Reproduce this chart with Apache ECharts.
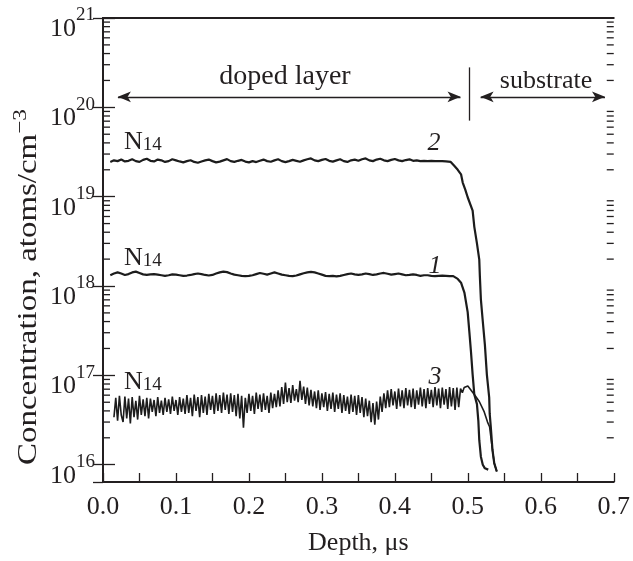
<!DOCTYPE html>
<html>
<head>
<meta charset="utf-8">
<script src="https://cdn.jsdelivr.net/npm/echarts@6.0.0/dist/echarts.min.js"></script>
<style>
html,body{margin:0;padding:0;background:#fff;}
#chart{width:633px;height:561px;}
</style>
</head>
<body>
<div id="chart"></div>
<script>
// ---------------- DATA ----------------
// depth sampling grid of the flat (doped-layer) part of curves 1 and 2, µm
const depthGrid = [
  0.010,0.015,0.020,0.025,0.030,0.035,0.040,0.045,0.050,0.055,
  0.060,0.065,0.070,0.075,0.080,0.085,0.090,0.095,0.100,0.105,
  0.110,0.115,0.120,0.125,0.130,0.135,0.140,0.145,0.150,0.155,
  0.160,0.165,0.170,0.175,0.180,0.185,0.190,0.195,0.200,0.205,
  0.210,0.215,0.220,0.225,0.230,0.235,0.240,0.245,0.250,0.255,
  0.260,0.265,0.270,0.275,0.280,0.285,0.290,0.295,0.300,0.305,
  0.310,0.315,0.320,0.325,0.330,0.335,0.340,0.345,0.350,0.355,
  0.360,0.365,0.370,0.375,0.380,0.385,0.390,0.395,0.400,0.405,
  0.410,0.415,0.420,0.425,0.430,0.435,0.440,0.445,0.450,0.455,
  0.460,0.465,0.470,0.475,0.480
];

// Curve 2 (top), flat part on depthGrid[0..92]
const curve2Flat = [
  2.45e19,2.55e19,2.50e19,2.60e19,2.48e19,2.52e19,2.62e19,2.50e19,2.45e19,2.58e19,
  2.66e19,2.52e19,2.48e19,2.60e19,2.55e19,2.45e19,2.50e19,2.62e19,2.55e19,2.48e19,
  2.42e19,2.50e19,2.56e19,2.45e19,2.40e19,2.48e19,2.55e19,2.60e19,2.50e19,2.42e19,
  2.47e19,2.55e19,2.63e19,2.50e19,2.45e19,2.52e19,2.58e19,2.47e19,2.42e19,2.50e19,
  2.44e19,2.52e19,2.60e19,2.50e19,2.46e19,2.55e19,2.62e19,2.50e19,2.44e19,2.50e19,
  2.58e19,2.52e19,2.46e19,2.55e19,2.62e19,2.68e19,2.55e19,2.50e19,2.58e19,2.64e19,
  2.52e19,2.47e19,2.55e19,2.62e19,2.50e19,2.45e19,2.55e19,2.60e19,2.52e19,2.62e19,
  2.68e19,2.55e19,2.50e19,2.60e19,2.66e19,2.55e19,2.50e19,2.58e19,2.64e19,2.55e19,
  2.50e19,2.57e19,2.62e19,2.52e19,2.55e19,2.50e19,2.52e19,2.50e19,2.52e19,2.50e19,
  2.50e19,2.50e19,2.48e19
];
const curve2TailDepth = [0.4766,0.4817,0.4862,0.4907,0.4930,0.4965,0.4998,0.5066,0.5089,0.5125,0.5157,
  0.5165,0.5179,0.5202,0.5234,0.5261,0.5293,0.5300,0.5315,0.5338,0.5362,0.5397];
const curve2TailConc = [2.45e19,2.2e19,2.0e19,1.78e19,1.44e19,1.2e19,9.85e18,7.0e18,4.6e18,3.0e18,1.97e18,
  1.29e18,7.1e17,4.3e17,2.19e17,1.02e17,5.65e16,3.7e16,2.64e16,1.46e16,1.04e16,8.4e15];

// Curve 1 (middle), flat part on depthGrid[0..94]
const curve1Flat = [
  1.32e18,1.38e18,1.42e18,1.38e18,1.33e18,1.36e18,1.42e18,1.45e18,1.40e18,1.35e18,
  1.33e18,1.35e18,1.36e18,1.34e18,1.32e18,1.30e18,1.32e18,1.35e18,1.34e18,1.32e18,
  1.30e18,1.31e18,1.33e18,1.36e18,1.38e18,1.36e18,1.33e18,1.31e18,1.33e18,1.38e18,
  1.42e18,1.45e18,1.43e18,1.38e18,1.34e18,1.32e18,1.30e18,1.29e18,1.30e18,1.32e18,
  1.36e18,1.40e18,1.37e18,1.34e18,1.38e18,1.42e18,1.38e18,1.34e18,1.32e18,1.30e18,
  1.29e18,1.31e18,1.35e18,1.39e18,1.42e18,1.44e18,1.42e18,1.38e18,1.34e18,1.30e18,
  1.29e18,1.30e18,1.28e18,1.30e18,1.33e18,1.36e18,1.38e18,1.35e18,1.33e18,1.35e18,
  1.38e18,1.36e18,1.33e18,1.35e18,1.38e18,1.40e18,1.37e18,1.34e18,1.36e18,1.38e18,
  1.35e18,1.32e18,1.33e18,1.35e18,1.33e18,1.30e18,1.32e18,1.32e18,1.30e18,1.29e18,
  1.30e18,1.31e18,1.30e18,1.29e18,1.29e18
];
const curve1TailDepth = [0.4862,0.4907,0.4953,0.4998,0.5021,0.5043,0.5066,0.5089,0.5125,0.5144,0.5157,0.5179,0.5205,0.5234,0.5280];
const curve1TailConc = [1.2e18,1.09e18,8.45e17,5.1e17,3.06e17,1.85e17,1.02e17,6.1e16,4.76e16,3.12e16,1.88e16,1.23e16,1.0e16,9.1e15,8.8e15];

// Curve 3 (bottom, noisy): finer depth grid, µm
const depth3 = [
  0.0150,0.0175,0.0200,0.0225,0.0250,0.0275,0.0300,0.0325,0.0350,0.0375,
  0.0400,0.0425,0.0450,0.0475,0.0500,0.0525,0.0550,0.0575,0.0600,0.0625,
  0.0650,0.0675,0.0700,0.0725,0.0750,0.0775,0.0800,0.0825,0.0850,0.0875,
  0.0900,0.0925,0.0950,0.0975,0.1000,0.1025,0.1050,0.1075,0.1100,0.1125,
  0.1150,0.1175,0.1200,0.1225,0.1250,0.1275,0.1300,0.1325,0.1350,0.1375,
  0.1400,0.1425,0.1450,0.1475,0.1500,0.1525,0.1550,0.1575,0.1600,0.1625,
  0.1650,0.1675,0.1700,0.1725,0.1750,0.1775,0.1800,0.1825,0.1850,0.1875,
  0.1900,0.1925,0.1950,0.1975,0.2000,0.2025,0.2050,0.2075,0.2100,0.2125,
  0.2150,0.2175,0.2200,0.2225,0.2250,0.2275,0.2300,0.2325,0.2350,0.2375,
  0.2400,0.2425,0.2450,0.2475,0.2500,0.2525,0.2550,0.2575,0.2600,0.2625,
  0.2650,0.2675,0.2700,0.2725,0.2750,0.2775,0.2800,0.2825,0.2850,0.2875,
  0.2900,0.2925,0.2950,0.2975,0.3000,0.3025,0.3050,0.3075,0.3100,0.3125,
  0.3150,0.3175,0.3200,0.3225,0.3250,0.3275,0.3300,0.3325,0.3350,0.3375,
  0.3400,0.3425,0.3450,0.3475,0.3500,0.3525,0.3550,0.3575,0.3600,0.3625,
  0.3650,0.3675,0.3700,0.3725,0.3750,0.3775,0.3800,0.3825,0.3850,0.3875,
  0.3900,0.3925,0.3950,0.3975,0.4000,0.4025,0.4050,0.4075,0.4100,0.4125,
  0.4150,0.4175,0.4200,0.4225,0.4250,0.4275,0.4300,0.4325,0.4350,0.4375,
  0.4400,0.4425,0.4450,0.4475,0.4500,0.4525,0.4550,0.4575,0.4600,0.4625,
  0.4650,0.4675,0.4700,0.4725,0.4750,0.4775,0.4800,0.4825,0.4850,0.4875,
  0.4900,0.4925,0.4950,0.4975,0.5000
];
const curve3Flat = [
  3.4e16,5.6e16,3.1e16,5.9e16,3.6e16,3.0e16,5.8e16,3.3e16,5.5e16,2.9e16,
  5.7e16,3.4e16,5.2e16,3.2e16,5.9e16,3.6e16,5.4e16,3.5e16,5.6e16,3.3e16,
  5.5e16,3.9e16,5.3e16,3.5e16,5.7e16,3.8e16,5.2e16,3.6e16,5.6e16,3.9e16,
  5.4e16,3.7e16,5.8e16,4.0e16,5.3e16,3.6e16,5.7e16,3.9e16,5.5e16,3.7e16,
  6.0e16,3.8e16,5.6e16,3.5e16,6.1e16,4.0e16,5.7e16,3.4e16,6.0e16,3.8e16,
  5.8e16,3.6e16,6.2e16,4.1e16,5.9e16,3.7e16,6.3e16,4.0e16,6.0e16,3.8e16,
  6.4e16,4.1e16,6.1e16,3.7e16,6.3e16,3.9e16,6.0e16,3.5e16,6.2e16,3.3e16,
  5.9e16,2.6e16,5.6e16,3.8e16,6.2e16,4.0e16,5.9e16,3.7e16,6.4e16,4.2e16,
  6.1e16,3.9e16,6.3e16,4.1e16,5.9e16,3.8e16,6.4e16,4.3e16,6.2e16,4.4e16,
  6.8e16,4.5e16,7.4e16,4.8e16,8.3e16,5.0e16,7.2e16,4.9e16,7.8e16,5.2e16,
  7.0e16,5.0e16,8.7e16,5.3e16,7.5e16,4.8e16,7.3e16,4.6e16,6.9e16,4.5e16,
  6.6e16,4.3e16,6.8e16,4.1e16,6.3e16,4.4e16,6.5e16,4.0e16,6.2e16,4.2e16,
  6.4e16,3.9e16,6.1e16,4.2e16,6.3e16,3.8e16,6.0e16,4.0e16,5.8e16,3.7e16,
  6.1e16,3.9e16,5.9e16,3.6e16,6.0e16,3.8e16,5.7e16,3.4e16,5.5e16,3.5e16,
  5.2e16,3.0e16,4.9e16,2.8e16,5.1e16,3.2e16,5.8e16,3.9e16,6.3e16,4.3e16,
  6.8e16,4.4e16,7.0e16,4.6e16,6.6e16,4.2e16,7.1e16,4.5e16,6.8e16,4.3e16,
  7.2e16,4.6e16,6.9e16,4.4e16,7.1e16,4.2e16,6.8e16,4.7e16,7.3e16,4.5e16,
  7.0e16,4.3e16,7.2e16,4.8e16,6.9e16,4.4e16,7.4e16,4.6e16,7.1e16,4.3e16,
  7.3e16,4.7e16,7.0e16,4.2e16,7.4e16,4.5e16,7.2e16,4.1e16,7.3e16,4.4e16,
  7.1e16,6.4e16,7.3e16,7.0e16,7.6e16
];
const curve3TailDepth = [0.5089,0.5157,0.5225,0.5270,0.5298,0.5338,0.5362,0.5397];
const curve3TailConc = [6.1e16,5.1e16,3.9e16,3.0e16,2.66e16,1.46e16,1.04e16,8.4e15];

// axis
const xMin = 0, xMax = 0.7, xStep = 0.1;
const yMin = 6.4e15, yMax = 1e21;
const minorTickValues = [];
for (let e = 16; e < 21; e++) for (let m = 2; m <= 9; m++) minorTickValues.push(m * Math.pow(10, e));

// annotation geometry in data units
const dopedArrow = [[0.0204, 1.31e20], [0.490, 1.31e20]];
const substrateArrow = [[0.5175, 1.31e20], [0.688, 1.31e20]];
const boundaryLine = [[0.502, 2.8e20], [0.502, 7.1e19]];

// ---------------- BUILD ----------------
function pairs(ds, vs) { return ds.map((d, i) => [d, vs[i]]); }
const s2 = pairs(depthGrid.slice(0, curve2Flat.length), curve2Flat).concat(pairs(curve2TailDepth, curve2TailConc));
const s1 = pairs(depthGrid.slice(0, curve1Flat.length), curve1Flat).concat(pairs(curve1TailDepth, curve1TailConc));
const s3 = pairs(depth3, curve3Flat).concat(pairs(curve3TailDepth, curve3TailConc));

const FONT = '"Liberation Serif", "Times New Roman", serif';
const INK = '#231f20';
const LINE = '#1c1c1c';

const chart = echarts.init(document.getElementById('chart'), null, {renderer: 'canvas'});

function yLabel(v) {
  const l = Math.log10(v);
  const e = Math.round(l);
  if (Math.abs(l - e) > 1e-6) return '';
  return '{b|10}{s|' + e + '}';
}
const nRich = {
  n: {fontFamily: FONT, fontSize: 26, fill: INK, verticalAlign: 'bottom'},
  d: {fontFamily: FONT, fontSize: 19, fill: INK, verticalAlign: 'bottom'}
};

const option = {
  animation: false,
  backgroundColor: '#fff',
  grid: {left: 103, right: 16, top: 18, bottom: 72},
  xAxis: [{
    type: 'value', min: xMin, max: xMax, interval: xStep,
    name: 'Depth, μs', nameLocation: 'middle', nameGap: 48,
    nameTextStyle: {fontFamily: FONT, fontSize: 26, color: INK},
    axisLine: {show: true, lineStyle: {color: INK, width: 2}},
    axisTick: {show: true, inside: true, length: 9, lineStyle: {color: INK, width: 1.3}},
    minorTick: {show: true, splitNumber: 2, length: 9, lineStyle: {color: INK, width: 1.3}},
    axisLabel: {fontFamily: FONT, fontSize: 26, color: INK, margin: 12,
      formatter: v => v.toFixed(1)},
    splitLine: {show: false}
  }, {
    type: 'value', position: 'top', min: xMin, max: xMax,
    axisLine: {show: true, lineStyle: {color: INK, width: 2}},
    axisTick: {show: false}, axisLabel: {show: false}, splitLine: {show: false}
  }],
  yAxis: [{
    type: 'log', min: yMin, max: yMax, logBase: 10,
    axisLine: {show: true, lineStyle: {color: INK, width: 2}},
    axisTick: {show: true, inside: true, length: 12, lineStyle: {color: INK, width: 1.3}},
    axisLabel: {
      fontFamily: FONT, color: INK, margin: 8, showMinLabel: false,
      padding: [12, 0, 0, 0],
      formatter: yLabel,
      rich: {
        b: {fontFamily: FONT, fontSize: 26, color: INK, verticalAlign: 'bottom', lineHeight: 36},
        s: {fontFamily: FONT, fontSize: 19, color: INK, verticalAlign: 'top', lineHeight: 19}
      }
    },
    splitLine: {show: false}
  }, {
    type: 'log', min: yMin, max: yMax, logBase: 10, position: 'right',
    axisLine: {show: true, lineStyle: {color: INK, width: 2}},
    axisTick: {show: true, inside: true, length: 10, lineStyle: {color: INK, width: 1.3}},
    axisLabel: {show: false}, splitLine: {show: false}
  }],
  series: [
    {
      type: 'line', name: '2', data: s2, showSymbol: false, symbol: 'none',
      lineStyle: {color: LINE, width: 2.2}, z: 3,
      markLine: {
        silent: true, animation: false,
        label: {show: false},
        lineStyle: {color: INK, width: 1.3, type: 'solid'},
        symbol: ['arrow', 'arrow'], symbolSize: [8, 13],
        data: [
          [{coord: dopedArrow[0]}, {coord: dopedArrow[1]}],
          [{coord: substrateArrow[0]}, {coord: substrateArrow[1]}],
          [{coord: boundaryLine[0], symbol: 'none'}, {coord: boundaryLine[1], symbol: 'none'}]
        ]
      }
    },
    {type: 'line', name: '1', data: s1, showSymbol: false, symbol: 'none', lineStyle: {color: LINE, width: 2.2}, z: 3},
    {type: 'line', name: '3', data: s3, showSymbol: false, symbol: 'none', lineStyle: {color: LINE, width: 1.6}, z: 3},
    {
      type: 'custom', name: 'minorTicks', silent: true, z: 5, clip: false,
      data: minorTickValues.map(v => [0, v]),
      renderItem: function (params, api) {
        const v = api.value(1);
        const pl = api.coord([xMin, v]);
        const pr = api.coord([xMax, v]);
        const st = {stroke: INK, lineWidth: 1.3};
        return {type: 'group', children: [
          {type: 'line', shape: {x1: pl[0], y1: pl[1], x2: pl[0] + 7, y2: pl[1]}, style: st},
          {type: 'line', shape: {x1: pr[0] - 7, y1: pr[1], x2: pr[0], y2: pr[1]}, style: st}
        ]};
      }
    }
  ],
  graphic: [
    {type: 'text', x: 27, y: 287, rotation: Math.PI / 2, scaleX: 1.22, scaleY: 1,
      style: {text: '{a|Concentration, atoms/cm}{s|−3}', align: 'center', verticalAlign: 'middle',
        rich: {a: {fontFamily: FONT, fontSize: 27, fill: INK, verticalAlign: 'bottom', lineHeight: 31},
               s: {fontFamily: FONT, fontSize: 19, fill: INK, verticalAlign: 'top', lineHeight: 19}}}},
    {type: 'text', x: 285, y: 77, style: {text: 'doped layer', font: '28px ' + FONT, fill: INK, align: 'center', verticalAlign: 'middle'}},
    {type: 'text', x: 546, y: 81, style: {text: 'substrate', font: '26px ' + FONT, fill: INK, align: 'center', verticalAlign: 'middle'}},
    {type: 'text', x: 124, y: 142, style: {text: '{n|N}{d|14}', verticalAlign: 'middle', rich: nRich}},
    {type: 'text', x: 124, y: 258, style: {text: '{n|N}{d|14}', verticalAlign: 'middle', rich: nRich}},
    {type: 'text', x: 124, y: 382, style: {text: '{n|N}{d|14}', verticalAlign: 'middle', rich: nRich}},
    {type: 'text', x: 434, y: 143, style: {text: '2', font: 'italic 26px ' + FONT, fill: INK, align: 'center', verticalAlign: 'middle'}},
    {type: 'text', x: 435, y: 266, style: {text: '1', font: 'italic 26px ' + FONT, fill: INK, align: 'center', verticalAlign: 'middle'}},
    {type: 'text', x: 435, y: 377, style: {text: '3', font: 'italic 26px ' + FONT, fill: INK, align: 'center', verticalAlign: 'middle'}}
  ]
};
chart.setOption(option);
</script>
</body>
</html>
